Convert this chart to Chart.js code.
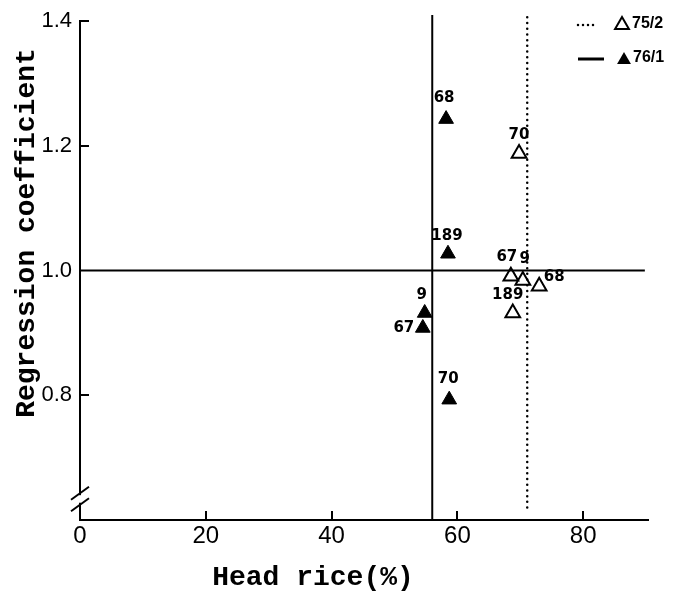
<!DOCTYPE html>
<html><head><meta charset="utf-8">
<script src="https://cdn.jsdelivr.net/npm/chart.js@4/dist/chart.umd.min.js"></script>
<style>html,body{margin:0;padding:0;background:#fff}#wrap{width:682px;height:596px}</style>
</head><body><div id="wrap"><canvas id="c" width="682" height="596"></canvas></div>
<script>
// ---- data ----
const xTicks = [0, 20, 40, 60, 80];
const yTicks = [0.8, 1.0, 1.2, 1.4];
const xTitle = 'Head rice(%)';
const yTitle = 'Regression coefficient';
const series752Name = '75/2';
const labels752 = ['70', '67', '9', '68', '189'];
const x752 = [69.8, 68.5, 70.4, 73.0, 68.8];
const y752 = [1.188, 0.991, 0.984, 0.975, 0.932];
const series761Name = '76/1';
const labels761 = ['68', '189', '9', '67', '70'];
const x761 = [58.2, 58.5, 54.8, 54.5, 58.7];
const y761 = [1.243, 1.027, 0.932, 0.908, 0.793];
const mean752X = 71.1;   // dotted vertical line
const mean761X = 56.0;   // solid vertical line
const refY = 1.0;        // horizontal reference line
const xMin = 0, xMax = 90.3, yMin = 0.6, yMax = 1.4;

// ---- styling (label offsets in px) ----
const off752 = [[0,-18],[-4,-19],[2,-21],[15,-9],[-5,-18]];
const off761 = [[-2,-21],[-1,-18],[-3,-18],[-19,0],[-1,-21]];

const pts = (xs, ys) => xs.map((x, i) => ({x, y: ys[i]}));

const decor = {
  id: 'decor',
  afterDraw(chart) {
    const ctx = chart.ctx;
    const xs = chart.scales.x, ys = chart.scales.y;
    ctx.save();
    ctx.strokeStyle = '#000'; ctx.fillStyle = '#000';
    // inward tick marks
    ctx.lineWidth = 2;
    xTicks.filter(v => v > 0).forEach(v => {
      const px = Math.round(xs.getPixelForValue(v));
      ctx.beginPath(); ctx.moveTo(px, ys.bottom); ctx.lineTo(px, ys.bottom - 9); ctx.stroke();
    });
    yTicks.filter(v => v !== refY).forEach(v => {
      const py = Math.round(ys.getPixelForValue(v));
      ctx.beginPath(); ctx.moveTo(xs.left, py); ctx.lineTo(xs.left + 9, py); ctx.stroke();
    });
    // axis break
    const ax = xs.left;
    const yb1 = ys.getPixelForValue(0.643), yb2 = ys.getPixelForValue(0.6245);
    ctx.fillStyle = '#fff';
    ctx.fillRect(ax - 3, yb1 + 2, 6, yb2 - yb1 - 4);
    ctx.lineWidth = 2;
    [yb1, yb2].forEach(yy => {
      ctx.beginPath(); ctx.moveTo(ax - 9, yy + 6.5); ctx.lineTo(ax + 9, yy - 6.5); ctx.stroke();
    });
    // point labels
    ctx.fillStyle = '#000';
    ctx.font = 'bold 15px "DejaVu Sans"';
    ctx.textAlign = 'center'; ctx.textBaseline = 'middle';
    const lab = (di, names, offs) => {
      chart.getDatasetMeta(di).data.forEach((el, i) => {
        ctx.fillText(names[i], el.x + offs[i][0], el.y + offs[i][1]);
      });
    };
    lab(0, labels752, off752);
    lab(1, labels761, off761);
    // legend
    ctx.lineWidth = 2.5; ctx.lineCap = 'round';
    ctx.setLineDash([0, 5]);
    ctx.beginPath(); ctx.moveTo(578, 25); ctx.lineTo(598, 25); ctx.stroke();
    ctx.setLineDash([]); ctx.lineCap = 'butt'; ctx.lineWidth = 3;
    ctx.beginPath(); ctx.moveTo(578, 59); ctx.lineTo(604, 59); ctx.stroke();
    const tri = (cx, cy, r, fill) => {
      ctx.beginPath();
      ctx.moveTo(cx, cy - r);
      ctx.lineTo(cx + r * 0.866, cy + r / 2);
      ctx.lineTo(cx - r * 0.866, cy + r / 2);
      ctx.closePath();
      if (fill) ctx.fill(); else { ctx.lineWidth = 2; ctx.stroke(); }
    };
    tri(622, 25, 8, false);
    tri(624, 60, 8, true);
    ctx.font = 'bold 16px "Liberation Sans"';
    ctx.textAlign = 'left';
    ctx.fillText(series752Name, 632, 24);
    ctx.fillText(series761Name, 633, 58);
    // axis titles
    ctx.font = 'bold 28px "Liberation Mono"';
    ctx.textAlign = 'center'; ctx.textBaseline = 'middle';
    ctx.fillText(xTitle, 313, 578);
    ctx.translate(27, 233); ctx.rotate(-Math.PI / 2);
    ctx.fillText(yTitle, 0, 0);
    ctx.restore();
  }
};

new Chart(document.getElementById('c'), {
  type: 'scatter',
  data: {
    datasets: [
      { label: series752Name, data: pts(x752, y752), pointStyle: 'triangle', pointRadius: 8.5,
        pointBackgroundColor: 'rgba(0,0,0,0)', pointBorderColor: '#000', pointBorderWidth: 2 },
      { label: series761Name, data: pts(x761, y761), pointStyle: 'triangle', pointRadius: 8.5,
        pointBackgroundColor: '#000', pointBorderColor: '#000', pointBorderWidth: 1 },
      { label: 'mean752', data: [{x: mean752X, y: 0.62}, {x: mean752X, y: 1.41}], showLine: true,
        pointRadius: 0, borderColor: '#000', borderWidth: 2.5, borderDash: [0, 5.7], borderCapStyle: 'round', clip: false },
      { label: 'mean761', data: [{x: mean761X, y: yMin}, {x: mean761X, y: 1.41}], showLine: true,
        pointRadius: 0, borderColor: '#000', borderWidth: 2, clip: false },
      { label: 'ref', data: [{x: xMin, y: refY}, {x: 89.8, y: refY}], showLine: true,
        pointRadius: 0, borderColor: '#000', borderWidth: 2, clip: false }
    ]
  },
  options: {
    responsive: false, animation: false, devicePixelRatio: 1,
    layout: { padding: { top: 14, right: 34, left: 0, bottom: 0 } },
    plugins: { legend: { display: false }, tooltip: { enabled: false } },
    scales: {
      x: {
        type: 'linear', min: xMin, max: xMax,
        afterBuildTicks: s => { s.ticks = xTicks.map(v => ({value: v})); },
        afterFit: s => { s.height = 76; },
        grid: { display: false, drawTicks: false },
        border: { display: true, color: '#000', width: 2 },
        ticks: { color: '#000', font: { family: 'Liberation Sans', size: 24 }, padding: 2,
                 maxRotation: 0, autoSkip: false, callback: v => String(v) }
      },
      y: {
        type: 'linear', min: yMin, max: yMax,
        afterBuildTicks: s => { s.ticks = yTicks.map(v => ({value: v})); },
        afterFit: s => { s.width = 80; },
        grid: { display: false, drawTicks: false },
        border: { display: true, color: '#000', width: 2 },
        ticks: { color: '#000', font: { family: 'Liberation Sans', size: 22 }, padding: 8,
                 autoSkip: false, callback: v => v.toFixed(1) }
      }
    }
  },
  plugins: [decor]
});
</script>
</body></html>
